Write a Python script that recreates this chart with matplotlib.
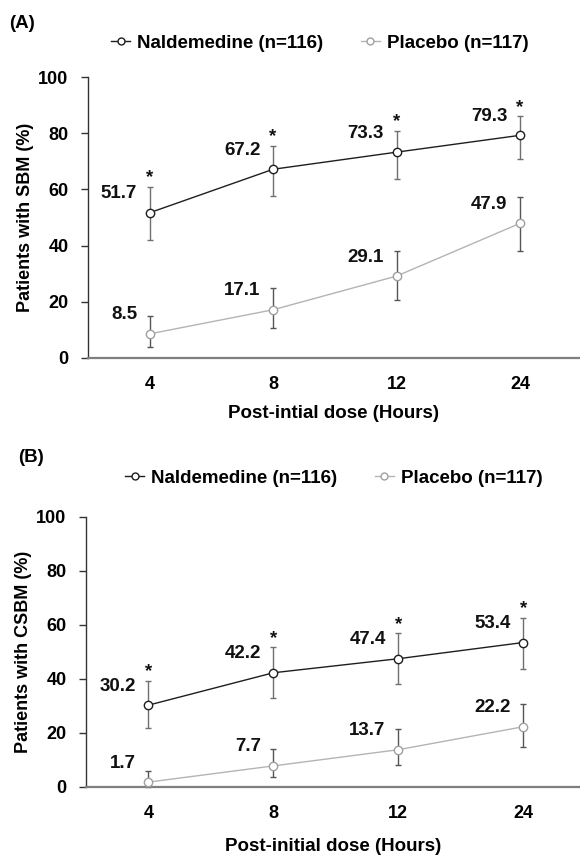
import numpy as np
import matplotlib
matplotlib.use("Agg")
import matplotlib.pyplot as plt
from matplotlib.lines import Line2D

plt.rcParams['font.family'] = ['Liberation Sans', 'DejaVu Sans']
plt.rcParams['font.weight'] = 'bold'

hours = ['4', '8', '12', '24']
series_names = ['Naldemedine (n=116)', 'Placebo (n=117)']

sbm_nald = [51.7, 67.2, 73.3, 79.3]
sbm_nald_lo = [41.9, 57.7, 63.9, 70.7]
sbm_nald_hi = [61.0, 75.6, 81.0, 86.1]
sbm_plac = [8.5, 17.1, 29.1, 47.9]
sbm_plac_lo = [3.8, 10.6, 20.7, 38.2]
sbm_plac_hi = [15.0, 25.0, 38.1, 57.3]

csbm_nald = [30.2, 42.2, 47.4, 53.4]
csbm_nald_lo = [21.9, 32.8, 37.9, 43.7]
csbm_nald_hi = [39.3, 51.6, 56.8, 62.6]
csbm_plac = [1.7, 7.7, 13.7, 22.2]
csbm_plac_lo = [0.0, 3.5, 7.9, 14.8]
csbm_plac_hi = [5.9, 13.8, 21.2, 30.6]

sig_marks = ['*', '*', '*', '*']

W, H = 580, 856
fig = plt.figure(figsize=(W / 100, H / 100), dpi=100)

NALD_LINE = '#1e1e1e'
NALD_ERR = '#707070'
PLAC_LINE = '#b4b4b4'
PLAC_MEC = '#a0a0a0'
PLAC_ERR = '#555555'
FS = 13.5


def px_axes(left, right, top, bottom):
    return fig.add_axes([left / W, 1 - bottom / H, (right - left) / W, (bottom - top) / H])


def draw_panel(ax, nald, nlo, nhi, plac, plo, phi, ylabel, xlabel, xmax, xlabpad):
    x = np.arange(len(hours))
    for y, lo, hi, lc, mec, ec in [(plac, plo, phi, PLAC_LINE, PLAC_MEC, PLAC_ERR),
                                   (nald, nlo, nhi, NALD_LINE, NALD_LINE, NALD_ERR)]:
        y = np.array(y); lo = np.array(lo); hi = np.array(hi)
        ax.errorbar(x, y, yerr=[y - lo, hi - y], fmt='none', ecolor=ec,
                    elinewidth=1.0, capsize=2.3, capthick=1.0, zorder=2, clip_on=False)
        ax.plot(x, y, '-o', color=lc, lw=1.0, mfc='white', mec=mec, mew=1.0,
                ms=6, zorder=3, clip_on=False)
        for xi, yi in zip(x, y):
            ax.annotate(f'{yi:.1f}', (xi, yi), xytext=(-9, 10.4), textcoords='offset points',
                        ha='right', va='baseline', fontsize=FS, fontweight='bold', color='#111111')
    for xi, hi, s in zip(x, nhi, sig_marks):
        ax.annotate(s, (xi, hi), xytext=(0, 3.3), textcoords='offset points',
                    ha='center', va='baseline', fontsize=FS, fontweight='bold', color='#111111')
    ax.set_xlim(-0.5, xmax)
    ax.set_ylim(0, 100)
    ax.set_yticks([0, 20, 40, 60, 80, 100])
    ax.set_xticks(x)
    ax.set_xticklabels(hours)
    for s in ['top', 'right']:
        ax.spines[s].set_visible(False)
    ax.spines['left'].set_color('#333333')
    ax.spines['left'].set_linewidth(1.0)
    ax.spines['bottom'].set_color('#7f7f7f')
    ax.spines['bottom'].set_linewidth(1.6)
    ax.tick_params(axis='y', direction='out', length=5, width=1.0, color='#333333',
                   pad=9, labelsize=13)
    ax.tick_params(axis='x', length=0, pad=13.5, labelsize=13)
    for lab in ax.get_xticklabels() + ax.get_yticklabels():
        lab.set_fontweight('bold')
    ax.set_ylabel(ylabel, fontsize=13, fontweight='bold', labelpad=3)
    ax.set_xlabel(xlabel, fontsize=13.5, fontweight='bold', labelpad=xlabpad)
    ax.patch.set_alpha(0)


axA = px_axes(88, 580, 77.3, 357.7)
draw_panel(axA, sbm_nald, sbm_nald_lo, sbm_nald_hi, sbm_plac, sbm_plac_lo, sbm_plac_hi,
           'Patients with SBM (%)', 'Post-intial dose (Hours)', -0.5 + (580 - 88) / 123.4, 8)

axB = px_axes(86, 580, 516.7, 786.7)
draw_panel(axB, csbm_nald, csbm_nald_lo, csbm_nald_hi, csbm_plac, csbm_plac_lo, csbm_plac_hi,
           'Patients with CSBM (%)', 'Post-initial dose (Hours)', -0.5 + (580 - 86) / 124.9, 11)

handles = [Line2D([], [], color=NALD_LINE, lw=1.0, marker='o', ms=5, mfc='white', mec=NALD_LINE),
           Line2D([], [], color=PLAC_LINE, lw=1.0, marker='o', ms=5, mfc='white', mec=PLAC_MEC)]

for cx, cy in [(320, 43), (334, 478)]:
    fig.legend(handles, series_names, loc='center', bbox_to_anchor=(cx / W, 1 - cy / H),
               ncol=2, frameon=False, handlelength=1.0, handletextpad=0.4,
               columnspacing=2.0, borderpad=0, borderaxespad=0,
               prop={'size': FS, 'weight': 'bold'})

fig.text(9 / W, 1 - 23 / H, '(A)', ha='left', va='center', fontsize=13.5, fontweight='bold')
fig.text(18.5 / W, 1 - 457 / H, '(B)', ha='left', va='center', fontsize=13.5, fontweight='bold')

fig.savefig('out.png', dpi=100)
